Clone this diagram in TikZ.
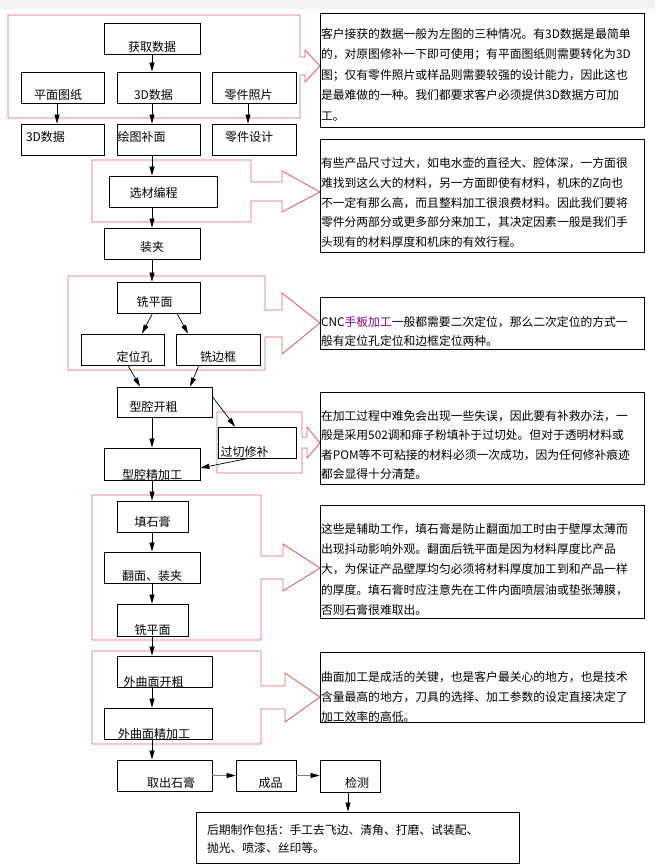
\documentclass[tikz,border=0pt]{standalone}
\usepackage{fontspec}
\setmainfont{Noto Sans CJK SC}
\usetikzlibrary{arrows.meta}
\definecolor{framered}{RGB}{225,95,105}
\definecolor{linkpurple}{RGB}{128,0,128}

\begin{document}
\begin{tikzpicture}[x=1pt,y=-1pt,
    box/.style={draw=black,line width=0.8pt,minimum height=31pt,inner xsep=0pt,inner ysep=0pt,font=\fontsize{12}{14}\selectfont},
    low/.style={text height=#1pt,text depth=0pt},
    tshift/.style={execute at begin node={\hspace*{#1pt}}},
    note/.style={draw=black,line width=0.8pt,minimum width=324pt,inner xsep=1pt,inner ysep=0pt,text width=322pt,align=left,text height=0pt,font=\fontsize{11.8}{20.5}\selectfont},
    arr/.style={line width=0.7pt,-{Triangle[length=9pt,width=5pt]}},
    grayarr/.style={line width=0.7pt,draw=black!50,-{Triangle[length=9pt,width=5pt,color=black]}},
    redframe/.style={draw=framered,line width=0.9pt}]
    \fill[black!5] (0,0) rectangle (655,9);
    \useasboundingbox (0,0) rectangle (655,866);

    % red frames with arrows
    \draw[redframe] (8,15) -- (300,15) -- (300,57) -- (305,57) -- (305,50) -- (320,66) -- (305,82) -- (305,75) -- (300,75) -- (300,118) -- (8,118) -- cycle;
    \draw[redframe] (92,160) -- (251,160) -- (251,182) -- (282,182) -- (282,171) -- (320,192) -- (282,212) -- (282,201) -- (251,201) -- (251,222) -- (92,222) -- cycle;
    \draw[redframe] (68,276) -- (265,276) -- (265,310) -- (282,310) -- (282,293) -- (320,323) -- (282,354) -- (282,337) -- (265,337) -- (265,370) -- (68,370) -- cycle;
    \draw[redframe] (217,412) -- (302,412) -- (302,437) -- (307,437) -- (307,427) -- (320,443) -- (307,458) -- (307,448) -- (302,448) -- (302,473) -- (217,473) -- cycle;
    \draw[redframe] (92,495) -- (261,495) -- (261,556) -- (283,556) -- (283,544) -- (320,568) -- (283,591) -- (283,579) -- (261,579) -- (261,640) -- (92,640) -- cycle;
    \draw[redframe] (92,651) -- (261,651) -- (261,686) -- (285,686) -- (285,673) -- (320,697) -- (285,722) -- (285,709) -- (261,709) -- (261,744) -- (92,744) -- cycle;

    % process boxes
    \node[box,minimum width=96pt,low=26] (get) at (152,38.5) {获取数据};
    \node[box,minimum width=83pt,low=24,tshift=-9] (plan) at (62.5,87.5) {平面图纸};
    \node[box,minimum width=83pt,low=24,tshift=-10] (data) at (158.5,87.5) {3D数据};
    \node[box,minimum width=84pt,low=24,tshift=-11] (photo) at (254,87.5) {零件照片};
    \node[box,minimum width=83pt,low=5,tshift=-34] (model) at (62.5,139.5) {3D数据};
    \node[box,minimum width=83pt,low=5,tshift=-34] (patch) at (158.5,139.5) {绘图补面};
    \node[box,minimum width=84pt,low=5,tshift=-10] (design) at (254,139.5) {零件设计};
    \node[box,minimum width=108pt,low=12,tshift=-19] (prog) at (163,191.5) {选材编程};
    \node[box,minimum width=96pt,low=16] (clamp) at (152,243.5) {装夹};
    \node[box,minimum width=83pt,low=18,tshift=-8] (face) at (158.5,297.5) {铣平面};
    \node[box,minimum width=83pt,low=24,tshift=24] (hole) at (122.5,349.5) {定位孔};
    \node[box,minimum width=84pt,low=24] (edge) at (218,349.5) {铣边框};
    \node[box,minimum width=95pt,minimum height=30pt,low=19,tshift=-22] (rough) at (164.5,402) {型腔开粗};
    \node[box,minimum width=78pt,low=28,tshift=-25] (fix) at (257,442.5) {过切修补};
    \node[box,minimum width=96pt,minimum height=32pt,low=31] (finish) at (152,464) {型腔精加工};
    \node[box,minimum width=71pt,low=20] (fill) at (152.5,516.5) {填石膏};
    \node[box,minimum width=96pt,low=26] (flip) at (152,567.5) {翻面、装夹};
    \node[box,minimum width=71pt,minimum height=32pt,low=29] (face2) at (152.5,620) {铣平面};
    \node[box,minimum width=95pt,low=30,tshift=-22] (srough) at (164.5,671.5) {外曲面开粗};
    \node[box,minimum width=108pt,low=30,tshift=-8] (sfinish) at (158,723.5) {外曲面精加工};
    \node[box,minimum width=95pt,low=24,tshift=13] (remove) at (164.5,775.5) {取出石膏};
    \node[box,minimum width=60pt,low=24,tshift=9] (product) at (266,775.5) {成品};
    \node[box,minimum width=60pt,minimum height=32pt,low=23,tshift=14] (check) at (350,776) {检测};

    % notes
    \node[note,minimum height=114pt,text depth=63pt] (n1) at (482,70) {客户接获的数据一般为左图的三种情况。有3D数据是最简单\\的，对原图修补一下即可使用；有平面图纸则需要转化为3D\\图；仅有零件照片或样品则需要较强的设计能力，因此这也\\是最难做的一种。我们都要求客户必须提供3D数据方可加\\工。};
    \node[note,minimum height=113pt,text depth=56pt,font=\fontsize{11.8}{19.8}\selectfont] (n2) at (482,195.5) {有些产品尺寸过大，如电水壶的直径大、腔体深，一方面很\\难找到这么大的材料，另一方面即使有材料，机床的Z向也\\不一定有那么高，而且整料加工很浪费材料。因此我们要将\\零件分两部分或更多部分来加工，其决定因素一般是我们手\\头现有的材料厚度和机床的有效行程。};
    \node[note,minimum height=52pt,text height=7pt,text depth=0pt,font=\fontsize{11.8}{19}\selectfont] (n3) at (482,323) {CNC\textcolor{linkpurple}{手板加工}一般都需要二次定位，那么二次定位的方式一\\般有定位孔定位和边框定位两种。};
    \node[note,minimum height=92pt,text depth=35pt,font=\fontsize{11.8}{19.3}\selectfont] (n4) at (482,438) {在加工过程中难免会出现一些失误，因此要有补救办法，一\\般是采用502调和痱子粉填补于过切处。但对于透明材料或\\者POM等不可粘接的材料必须一次成功，因为任何修补痕迹\\都会显得十分清楚。};
    \node[note,minimum height=113pt,text depth=56pt,font=\fontsize{11.8}{20.2}\selectfont] (n5) at (482,561.5) {这些是辅助工作，填石膏是防止翻面加工时由于壁厚太薄而\\出现抖动影响外观。翻面后铣平面是因为材料厚度比产品\\大，为保证产品壁厚均匀必须将材料厚度加工到和产品一样\\的厚度。填石膏时应注意先在工件内面喷层油或垫张薄膜，\\否则石膏很难取出。};
    \node[note,minimum height=70pt,text depth=11pt,font=\fontsize{11.8}{20}\selectfont] (n6) at (482,687) {曲面加工是成活的关键，也是客户最关心的地方，也是技术\\含量最高的地方，刀具的选择、加工参数的设定直接决定了\\加工效率的高低。};
    \node[note,minimum width=323pt,text width=301pt,inner xsep=11pt,minimum height=51pt,text depth=6pt,font=\fontsize{11.8}{18}\selectfont] (post) at (357.5,837.5) {后期制作包括：手工去飞边、清角、打磨、试装配、\\抛光、喷漆、丝印等。};

    % connectors
    \coordinate (axis) at (152,0);
    \draw[arr] (get.south) -- (data.north -| axis);
    \draw[arr] ([xshift=-5.5pt]plan.south) -- ([xshift=-5.5pt]model.north);
    \draw[arr] (data.south -| axis) -- (patch.north -| axis);
    \draw[arr] ([xshift=-6pt]photo.south) -- ([xshift=-6pt]design.north);
    \draw[arr] (patch.south -| axis) -- (prog.north -| axis);
    \draw[arr] (prog.south -| axis) -- (clamp.north);
    \draw[arr] (clamp.south) -- (face.north -| axis);
    \draw[arr] ([xshift=-6pt]face.south) -- ([xshift=19.5pt]hole.north);
    \draw[arr] ([xshift=18.5pt]face.south) -- ([xshift=-30pt]edge.north);
    \draw[arr] ([xshift=5.5pt]hole.south) -- ([xshift=-24.5pt]rough.north);
    \draw[arr] ([xshift=-19pt]edge.south) -- ([xshift=25.5pt]rough.north);
    \draw[arr] ([yshift=-10pt]rough.north east) -- ([xshift=-22pt]fix.north);
    \draw[arr] ([xshift=-9pt]fix.south) -- ([yshift=-4pt]finish.east);
    \draw[arr] (rough.south -| axis) -- (finish.north);
    \draw[arr] (finish.south) -- (fill.north -| axis);
    \draw[arr] (fill.south -| axis) -- (flip.north);
    \draw[arr] (flip.south) -- (face2.north -| axis);
    \draw[arr] (face2.south -| axis) -- (srough.north -| axis);
    \draw[arr] (srough.south -| axis) -- (sfinish.north -| axis);
    \draw[arr] (sfinish.south -| axis) -- (remove.north -| axis);
    \draw[grayarr] (remove.east) -- (product.west);
    \draw[grayarr] (product.east) -- (product.east -| check.west);
    \draw[arr] ([xshift=-2pt]check.south) -- ([xshift=-2pt]check.south |- post.north);
\end{tikzpicture}
\end{document}
